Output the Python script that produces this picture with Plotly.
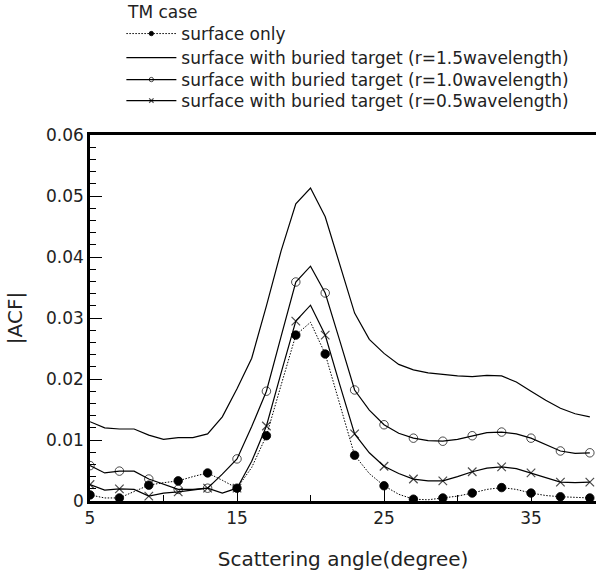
import plotly.graph_objects as go

angles = list(range(5, 40))

surface_only = [0.0010, 0.0005, 0.0005, 0.0015, 0.0026, 0.0030, 0.0033, 0.0040, 0.0046, 0.0034,
                 0.0021, 0.0055, 0.0107, 0.0190, 0.0272, 0.0293, 0.0241, 0.0158, 0.0075, 0.0045,
                 0.0025, 0.0011, 0.0003, 0.0002, 0.0005, 0.0008, 0.0013, 0.0019, 0.0022, 0.0019,
                 0.0013, 0.0009, 0.0007, 0.0006, 0.0005]

r15 = [0.0130, 0.0120, 0.0118, 0.0118, 0.0108, 0.0101, 0.0104, 0.0104, 0.0110, 0.0138,
       0.0184, 0.0234, 0.0320, 0.0410, 0.0487, 0.0513, 0.0466, 0.0387, 0.0308, 0.0265,
       0.0242, 0.0224, 0.0215, 0.0210, 0.0207, 0.0205, 0.0204, 0.0206, 0.0205, 0.0195,
       0.0180, 0.0165, 0.0152, 0.0143, 0.0138]

r10 = [0.0058, 0.0046, 0.0049, 0.0049, 0.0036, 0.0028, 0.0019, 0.0019, 0.0021, 0.0044,
       0.0069, 0.0122, 0.0180, 0.0270, 0.0359, 0.0385, 0.0341, 0.0262, 0.0182, 0.0149,
       0.0125, 0.0111, 0.0103, 0.0099, 0.0098, 0.0101, 0.0107, 0.0112, 0.0113, 0.0110,
       0.0103, 0.0092, 0.0082, 0.0078, 0.0079]

r05 = [0.0027, 0.0018, 0.0020, 0.0019, 0.0008, 0.0013, 0.0015, 0.0018, 0.0021, 0.0013,
       0.0021, 0.0065, 0.0123, 0.0210, 0.0295, 0.0321, 0.0272, 0.0190, 0.0110, 0.0079,
       0.0057, 0.0045, 0.0036, 0.0033, 0.0033, 0.0040, 0.0048, 0.0054, 0.0056, 0.0053,
       0.0046, 0.0038, 0.0031, 0.0030, 0.0031]

names = ["surface only",
         "surface with buried target (r=1.5wavelength)",
         "surface with buried target (r=1.0wavelength)",
         "surface with buried target (r=0.5wavelength)"]
legend_title = "TM case"

x_ticks = [5, 15, 25, 35]
y_ticks = [0, 0.01, 0.02, 0.03, 0.04, 0.05, 0.06]
y_ticktext = ["0", "0.01", "0.02", "0.03", "0.04", "0.05", "0.06"]

FONT = "DejaVu Sans"
FS = 17
msize = [8.5 if a % 2 == 1 else 0 for a in angles]

fig = go.Figure()
fig.add_trace(go.Scatter(x=angles, y=surface_only, name=names[0], mode="lines+markers",
                         legend="legend",
                         line=dict(color="black", width=1, dash="1.5px,1.5px"),
                         marker=dict(symbol="circle", size=msize, color="black", opacity=1,
                                     line=dict(width=0.8, color="black"))))
fig.add_trace(go.Scatter(x=angles, y=r15, name=names[1], mode="lines",
                         legend="legend2",
                         line=dict(color="black", width=1.2)))
fig.add_trace(go.Scatter(x=angles, y=r10, name=names[2], mode="lines+markers",
                         legend="legend3",
                         line=dict(color="black", width=1.2),
                         marker=dict(symbol="circle-open", size=msize, color="black",
                                     line=dict(width=1, color="black"))))
fig.add_trace(go.Scatter(x=angles, y=r05, name=names[3], mode="lines+markers",
                         legend="legend4",
                         line=dict(color="black", width=1.2),
                         marker=dict(symbol="x-thin", size=msize, color="black",
                                     line=dict(width=1.2, color="black"))))

# plot area: top 135px, bottom 501px (366 px tall)
def py(p):
    return (501 - p) / 366.0

LX = 0.062
leg_common = dict(x=LX, xanchor="left", yanchor="middle", bgcolor="rgba(0,0,0,0)",
                  borderwidth=0, itemwidth=50, font=dict(size=FS, family=FONT))

fig.update_layout(
    width=596, height=573,
    margin=dict(l=90, r=0, t=135, b=72),
    paper_bgcolor="white", plot_bgcolor="white",
    font=dict(family=FONT, size=FS, color="#222"),
    legend=dict(y=py(34), **leg_common),
    legend2=dict(y=py(58), **leg_common),
    legend3=dict(y=py(80), **leg_common),
    legend4=dict(y=py(101), **leg_common),
    showlegend=True,
    annotations=[dict(text=legend_title, xref="paper", yref="paper",
                      x=(125 - 90) / 506.0, y=py(12), xanchor="left", yanchor="middle",
                      showarrow=False, font=dict(size=FS, family=FONT, color="#222"))],
)
fig.update_xaxes(range=[5, 39.42], tickvals=x_ticks, ticks="inside", ticklen=12,
                 tickwidth=1.2, tickcolor="black",
                 minor=dict(dtick=5, tick0=5, ticks="inside", ticklen=6, tickwidth=1.2, tickcolor="black"),
                 showline=True, linewidth=2.5, linecolor="black", mirror=True,
                 showgrid=False, zeroline=False,
                 title=dict(text="Scattering angle(degree)", standoff=25),
                 tickfont=dict(size=FS))
fig.update_yaxes(range=[0, 0.06], tickvals=y_ticks, ticktext=y_ticktext, ticks="inside", ticklen=12,
                 tickwidth=1.2, tickcolor="black",
                 minor=dict(dtick=0.002, tick0=0, ticks="inside", ticklen=6, tickwidth=1.2, tickcolor="black"),
                 showline=True, linewidth=2.5, linecolor="black", mirror=False,
                 showgrid=False, zeroline=False,
                 title=dict(text="|ACF|", standoff=18),
                 tickfont=dict(size=FS))

fig.write_html("out.html")
